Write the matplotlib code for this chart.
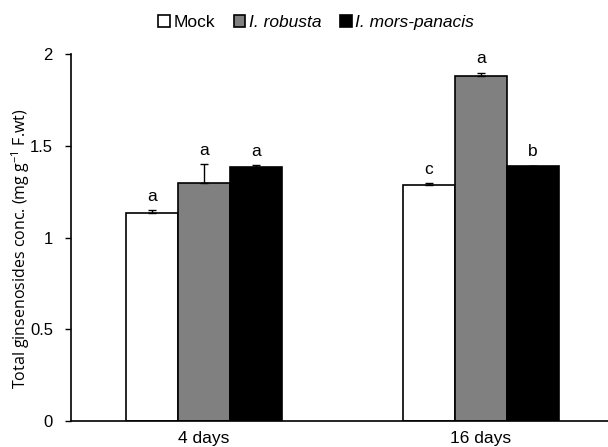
import matplotlib.pyplot as plt
import numpy as np

groups = ['4 days', '16 days']
series = ['Mock', 'I. robusta', 'I. mors-panacis']
mock = [1.137, 1.288]
robusta = [1.30, 1.885]
mors = [1.386, 1.39]
mock_err = [0.013, 0.01]
robusta_err = [0.10, 0.015]
mors_err = [0.01, 0.004]
letters = [['a', 'a', 'a'], ['c', 'a', 'b']]

plt.rcParams['font.family'] = ['Liberation Sans', 'DejaVu Sans']

fig = plt.figure(figsize=(6.08, 4.47), dpi=100)
ax = fig.add_axes([0.1168, 0.0582, 0.911, 0.82])

x = np.arange(len(groups))
w = 0.188
colors = ['white', '#808080', 'black']
values = [mock, robusta, mors]
errs = [mock_err, robusta_err, mors_err]
for i, (vals, err, col, name) in enumerate(zip(values, errs, colors, series)):
    pos = x + (i - 1) * w
    ax.bar(pos, vals, w, color=col, edgecolor='black', linewidth=1.2, label=name, zorder=2)
    ax.errorbar(pos, vals, yerr=[np.zeros(len(err)), err], fmt='none',
                ecolor='black', elinewidth=1.0, capsize=3, capthick=1.0, zorder=3)
    for j in range(len(groups)):
        ax.text(pos[j], vals[j] + err[j] + 0.035, letters[j][i], ha='center', va='bottom',
                fontsize=12.5)

ax.set_xlim(-0.48, 1.52)
ax.set_ylim(0, 2)
ax.set_yticks([0, 0.5, 1, 1.5, 2])
ax.set_yticklabels(['0', '0.5', '1', '1.5', '2'], fontsize=12)
ax.set_xticks(x)
ax.set_xticklabels(groups, fontsize=12.5)
ax.tick_params(axis='x', length=0, pad=7)
ax.tick_params(axis='y', length=4, width=1.0, direction='out', pad=9)
for s in ['top', 'right']:
    ax.spines[s].set_visible(False)
ax.spines['left'].set_linewidth(1.2)
ax.spines['bottom'].set_linewidth(1.2)
ax.set_ylabel('Total ginsenosides conc. (mg g$^{\\mathregular{-1}}$ F.wt)', fontsize=11.5,
              family=['Open Sans', 'DejaVu Sans'])
ax.yaxis.set_label_coords(-0.07, 0.47)

leg = fig.legend(loc='center', bbox_to_anchor=(0.52, 0.95), ncol=3, frameon=False,
                 fontsize=12.5, handlelength=0.65, handleheight=0.65, handletextpad=0.2,
                 columnspacing=1.1)
for t in leg.get_texts()[1:]:
    t.set_style('italic')

fig.savefig('out.png', dpi=100)
